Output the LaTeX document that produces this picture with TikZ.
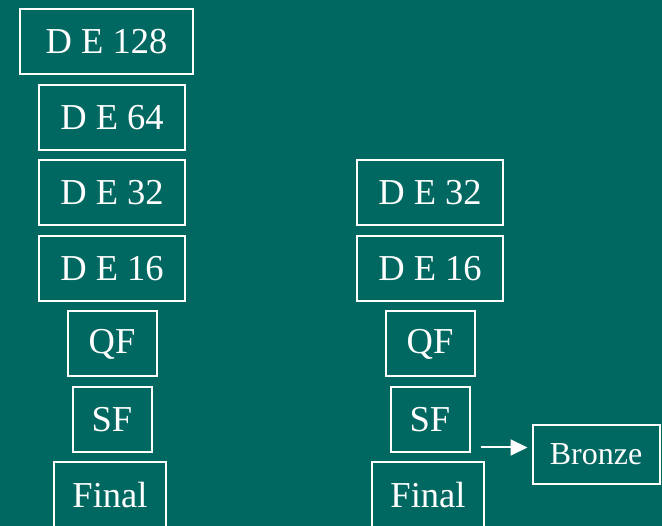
\documentclass[tikz,border=0pt]{standalone}
\usepackage{fontspec}
\setmainfont{Liberation Serif}
\usetikzlibrary{arrows.meta,calc,positioning}
\definecolor{slideteal}{RGB}{0,104,97}

\begin{document}
\begin{tikzpicture}[
    font=\fontsize{36.5}{40}\selectfont,
    node distance=8.5pt and 170pt,
    box/.style={draw=white, line width=2pt, text=white, minimum height=65pt, inner sep=0pt},
    wide/.style={box, minimum width=146pt},
    arrow/.style={-{Triangle[length=17pt, width=16pt]}, draw=white, fill=white, line width=2pt}
  ]
    \fill[slideteal] (0,0) rectangle (662pt,-526pt);
    \useasboundingbox (0,0) rectangle (662pt,-526pt);

    % left column
    \node[box, minimum width=173pt] (l128) at (106.5pt,-42pt) {D E 128};
    \node[wide, below=of l128, xshift=5.5pt] (l64) {D E 64};
    \node[wide, below=of l64] (l32) {D E 32};
    \node[wide, below=of l32] (l16) {D E 16};
    \node[box, minimum width=89pt, below=of l16] (lqf) {QF};
    \node[box, minimum width=79pt, below=of lqf] (lsf) {SF};
    \node[box, minimum width=112pt, below=of lsf, xshift=-2pt] (lfinal) {Final};

    % right column
    \node[wide, right=of l32] (r32) {D E 32};
    \node[wide, below=of r32] (r16) {D E 16};
    \node[box, minimum width=89pt, below=of r16] (rqf) {QF};
    \node[box, minimum width=79pt, below=of rqf] (rsf) {SF};
    \node[box, minimum width=112pt, below=of rsf, xshift=-2pt] (rfinal) {Final};

    \node[box, minimum width=127pt, minimum height=59pt, font=\fontsize{32}{36}\selectfont,
          right=61pt of rsf, yshift=-35pt] (bronze) {Bronze};
    \coordinate (arrstart) at ($(rsf.east)+(10pt,-28pt)$);
    \draw[arrow, shorten >=4pt] (arrstart) -- (arrstart -| bronze.west);
  \end{tikzpicture}
\end{document}
